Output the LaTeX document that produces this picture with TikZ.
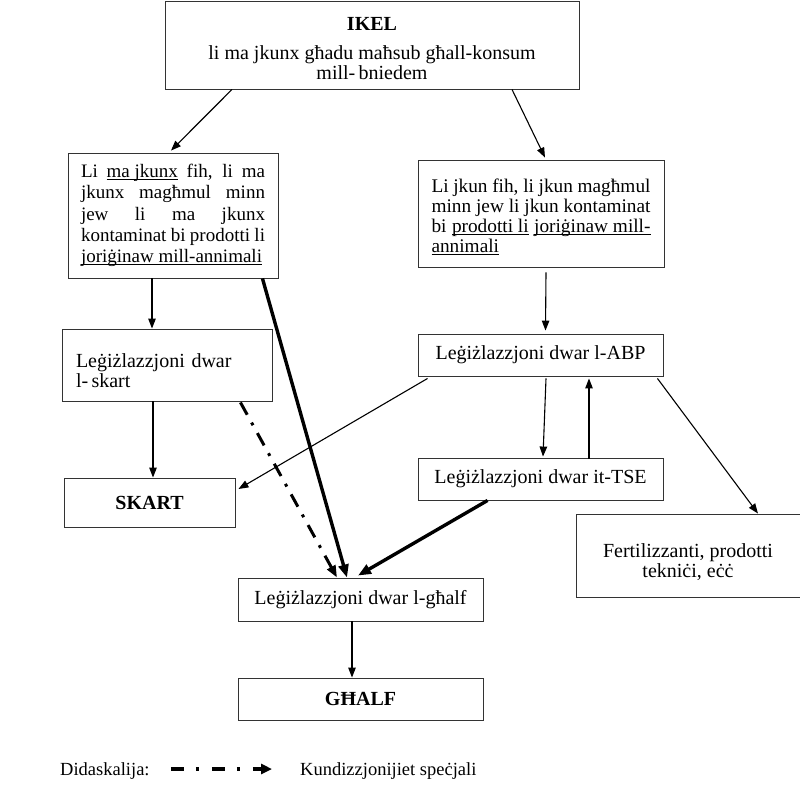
\documentclass[tikz,border=0pt]{standalone}
\usepackage{fontspec}
\setmainfont{Liberation Serif}
\usetikzlibrary{arrows.meta}
\newcommand\myul[1]{\setbox0\hbox{#1}\rlap{\rule[-2.4pt]{\wd0}{0.8pt}}\box0\relax}
\begin{document}
\begin{tikzpicture}[x=1pt,y=-1pt,
  box/.style={draw=black!80, line width=0.9pt, inner sep=0pt, align=center,
    font=\fontsize{20}{20}\selectfont},
  arr/.style={-{Triangle[length=10pt,width=7.5pt]}, line width=1.1pt},
  tarr/.style={-{Triangle[length=13pt,width=10pt]}, line width=3.4pt},
  ddarr/.style={-{Triangle[length=12pt,width=9pt]}, line width=3pt,
    dash pattern=on 14pt off 9pt on 3pt off 9pt},
  legarr/.style={-{Triangle[length=11pt,width=10pt]}, line width=4pt,
    dash pattern=on 13pt off 12pt on 3pt off 13pt},
  lbl/.style={inner sep=0pt, font=\fontsize{18.5}{20}\selectfont}]
\useasboundingbox (0,0) rectangle (800,788);
\fill[white] (0,0) rectangle (800,788);

% boxes
\node[box, minimum width=414pt, minimum height=88pt] (ikel) at (372,45)
  {\rule{0pt}{19.5pt}{\bfseries IKEL}\\[9pt]li ma jkunx għadu maħsub għall-konsum\\mill-\,bniedem};

\node[box, minimum width=210pt, minimum height=125pt, align=left,
  font=\fontsize{19}{21.2}\selectfont] (l1) at (173,215.5)
  {\makebox[184pt][s]{Li \myul{ma jkunx} fih, li ma}\\
   \makebox[184pt][s]{jkunx magħmul minn}\\
   \makebox[184pt][s]{jew li ma jkunx}\\
   \makebox[184pt][s]{kontaminat bi prodotti li}\\
   \myul{joriġinaw mill-annimali}};

\node[box, minimum width=246pt, minimum height=107pt, align=left,
  font=\fontsize{19.3}{19.8}\selectfont] (r1) at (541,213.5)
  {\rule{0pt}{20pt}\makebox[219pt][s]{Li jkun fih, li jkun magħmul}\\
   \makebox[219pt][s]{minn jew li jkun kontaminat}\\
   \makebox[219pt][s]{bi \myul{prodotti li} \myul{joriġinaw mill-}}\\
   \myul{annimali}};

\node[box, minimum width=210pt, minimum height=72pt, align=left, text width=182pt] (lskart) at (167,365)
  {\rule{0pt}{26pt}\makebox[159pt][s]{Leġiżlazzjoni dwar}\\l-\,skart};

\node[box, minimum width=171pt, minimum height=49pt, font=\fontsize{20}{20}\selectfont\bfseries]
  (skart) at (149.5,502.5) {SKART};

\node[box, minimum width=245pt, minimum height=42pt] (abp) at (540.5,355)
  {Leġiżlazzjoni dwar l-ABP};

\node[box, minimum width=245pt, minimum height=42pt] (tse) at (540.5,479)
  {Leġiżlazzjoni dwar it-TSE};

\node[box, minimum width=224pt, minimum height=83pt] (fert) at (688,555.5)
  {\rule{0pt}{28pt}Fertilizzanti, prodotti\\tekniċi, eċċ};

\node[box, minimum width=245pt, minimum height=43pt] (ghalf) at (360.5,599.5)
  {Leġiżlazzjoni dwar l-għalf};

\node[box, minimum width=245pt, minimum height=42pt, font=\fontsize{20}{20}\selectfont\bfseries]
  (ghalf2) at (360.5,699) {GĦALF};

% connectors
\draw[arr] ([xshift=-140pt]ikel.south) -- ([xshift=-2pt,yshift=2pt]l1.north);
\draw[arr] ([xshift=140pt]ikel.south) -- ([xshift=4pt,yshift=2pt]r1.north);
\draw[arr] ([xshift=-21pt]l1.south) -- ([xshift=-15pt]lskart.north);
\draw[arr] ([xshift=-14pt]lskart.south) -- ([xshift=3.5pt]skart.north);
\draw[arr] ([xshift=5pt,yshift=-5pt]r1.south) -- ([xshift=5pt,yshift=3pt]abp.north);
\draw[arr] ([xshift=5.5pt,yshift=-2pt]abp.south) -- ([xshift=2.5pt,yshift=1pt]tse.north);
\draw[arr] ([xshift=48.5pt,yshift=-1pt]tse.north) -- ([xshift=48.5pt,yshift=-2pt]abp.south);
\draw[arr] ([xshift=-6pt,yshift=-2pt]abp.south east) -- ([xshift=70pt]fert.north);
\draw[arr] ([xshift=10pt,yshift=-2pt]abp.south west) -- ([xshift=3pt,yshift=13.5pt]skart.east);
\draw[tarr] ([xshift=-16pt]l1.south east) -- ([xshift=-13.5pt]ghalf.north);
\draw[tarr] ([xshift=70pt]tse.south west) -- ([xshift=-2.5pt,yshift=2pt]ghalf.north);
\draw[ddarr] ([xshift=-32pt,yshift=-1pt]lskart.south east) -- ([xshift=-23.5pt]ghalf.north);
\draw[arr] ([xshift=-8.5pt]ghalf.south) -- ([xshift=-8.5pt]ghalf2.north);

% legend
\node[lbl, anchor=base west] (did) at (60,775) {Didaskalija:};
\node[lbl, anchor=base west] (kund) at (300,775) {Kundizzjonijiet speċjali};
\draw[legarr] ([xshift=21pt,yshift=6pt]did.base east) -- ([xshift=-28pt,yshift=6pt]kund.base west);
\end{tikzpicture}
\end{document}
